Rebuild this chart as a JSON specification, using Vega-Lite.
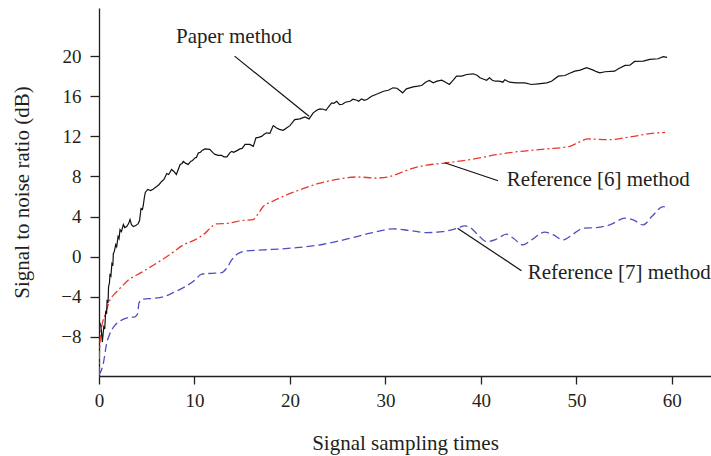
{
  "$schema": "https://vega.github.io/schema/vega-lite/v6.json",
  "width": 612,
  "height": 368,
  "autosize": {"type": "none"},
  "padding": {"left": 99, "top": 8, "right": 0, "bottom": 80},
  "background": "white",
  "config": {
    "view": {"stroke": null},
    "font": "Liberation Serif",
    "axis": {
      "grid": false,
      "domainColor": "#231f20",
      "domainWidth": 1.3,
      "tickColor": "#231f20",
      "tickWidth": 1.3,
      "labelColor": "#231f20",
      "titleColor": "#231f20",
      "labelFont": "Liberation Serif",
      "titleFont": "Liberation Serif",
      "labelFontSize": 19,
      "titleFontSize": 21,
      "titleFontWeight": "normal"
    }
  },
  "datasets": {
    "curves": [
      {"series": "Paper", "x": 0, "y": -6.4}, {"series": "Paper", "x": 0.2, "y": -6.9}, {"series": "Paper", "x": 0.35, "y": -8.5}, {"series": "Paper", "x": 0.5, "y": -7.0}, {"series": "Paper", "x": 0.6, "y": -7.2}, {"series": "Paper", "x": 0.7, "y": -5.5}, {"series": "Paper", "x": 0.8, "y": -5.6}, {"series": "Paper", "x": 0.85, "y": -4.3}, {"series": "Paper", "x": 0.95, "y": -4.6}, {"series": "Paper", "x": 1.0, "y": -3.0}, {"series": "Paper", "x": 1.1, "y": -2.6}, {"series": "Paper", "x": 1.15, "y": -1.7}, {"series": "Paper", "x": 1.25, "y": -1.9}, {"series": "Paper", "x": 1.35, "y": -0.7}, {"series": "Paper", "x": 1.45, "y": -0.9}, {"series": "Paper", "x": 1.5, "y": 0.3}, {"series": "Paper", "x": 1.6, "y": 0.5}, {"series": "Paper", "x": 1.75, "y": 1.2}, {"series": "Paper", "x": 1.85, "y": 1.0}, {"series": "Paper", "x": 2.0, "y": 2.0}, {"series": "Paper", "x": 2.1, "y": 1.8}, {"series": "Paper", "x": 2.2, "y": 2.7}, {"series": "Paper", "x": 2.35, "y": 2.5}, {"series": "Paper", "x": 2.55, "y": 3.2}, {"series": "Paper", "x": 2.7, "y": 2.9}, {"series": "Paper", "x": 2.9, "y": 3.0}, {"series": "Paper", "x": 3.1, "y": 3.3}, {"series": "Paper", "x": 3.25, "y": 3.7}, {"series": "Paper", "x": 3.4, "y": 3.2}, {"series": "Paper", "x": 3.6, "y": 3.0}, {"series": "Paper", "x": 3.85, "y": 3.1}, {"series": "Paper", "x": 4.1, "y": 3.3}, {"series": "Paper", "x": 4.25, "y": 3.6}, {"series": "Paper", "x": 4.4, "y": 4.8}, {"series": "Paper", "x": 4.55, "y": 4.7}, {"series": "Paper", "x": 4.65, "y": 5.2}, {"series": "Paper", "x": 4.75, "y": 5.9}, {"series": "Paper", "x": 4.85, "y": 6.4}, {"series": "Paper", "x": 5.1, "y": 6.7}, {"series": "Paper", "x": 5.4, "y": 6.6}, {"series": "Paper", "x": 5.7, "y": 6.75}, {"series": "Paper", "x": 6.04, "y": 7.0}, {"series": "Paper", "x": 6.3, "y": 7.2}, {"series": "Paper", "x": 6.56, "y": 7.5}, {"series": "Paper", "x": 6.8, "y": 7.7}, {"series": "Paper", "x": 7.1, "y": 8.3}, {"series": "Paper", "x": 7.3, "y": 8.2}, {"series": "Paper", "x": 7.6, "y": 8.7}, {"series": "Paper", "x": 7.85, "y": 8.5}, {"series": "Paper", "x": 8.1, "y": 8.2}, {"series": "Paper", "x": 8.3, "y": 8.7}, {"series": "Paper", "x": 8.5, "y": 9.2}, {"series": "Paper", "x": 8.7, "y": 9.3}, {"series": "Paper", "x": 8.83, "y": 9.5}, {"series": "Paper", "x": 9.1, "y": 9.3}, {"series": "Paper", "x": 9.35, "y": 9.2}, {"series": "Paper", "x": 9.6, "y": 9.5}, {"series": "Paper", "x": 9.8, "y": 9.6}, {"series": "Paper", "x": 10.05, "y": 9.85}, {"series": "Paper", "x": 10.2, "y": 9.9}, {"series": "Paper", "x": 10.4, "y": 10.35}, {"series": "Paper", "x": 10.6, "y": 10.4}, {"series": "Paper", "x": 10.8, "y": 10.6}, {"series": "Paper", "x": 11.1, "y": 10.75}, {"series": "Paper", "x": 11.6, "y": 10.7}, {"series": "Paper", "x": 11.9, "y": 10.4}, {"series": "Paper", "x": 12.15, "y": 10.2}, {"series": "Paper", "x": 12.5, "y": 10.1}, {"series": "Paper", "x": 12.85, "y": 10.1}, {"series": "Paper", "x": 13.1, "y": 9.95}, {"series": "Paper", "x": 13.4, "y": 9.95}, {"series": "Paper", "x": 13.7, "y": 10.35}, {"series": "Paper", "x": 13.9, "y": 10.5}, {"series": "Paper", "x": 14.1, "y": 10.4}, {"series": "Paper", "x": 14.3, "y": 10.5}, {"series": "Paper", "x": 14.5, "y": 10.6}, {"series": "Paper", "x": 14.76, "y": 10.75}, {"series": "Paper", "x": 15.0, "y": 10.8}, {"series": "Paper", "x": 15.3, "y": 11.2}, {"series": "Paper", "x": 15.6, "y": 11.2}, {"series": "Paper", "x": 15.8, "y": 11.2}, {"series": "Paper", "x": 16.16, "y": 11.0}, {"series": "Paper", "x": 16.44, "y": 11.85}, {"series": "Paper", "x": 16.7, "y": 11.9}, {"series": "Paper", "x": 17.03, "y": 12.0}, {"series": "Paper", "x": 17.3, "y": 12.2}, {"series": "Paper", "x": 17.56, "y": 12.35}, {"series": "Paper", "x": 17.9, "y": 12.3}, {"series": "Paper", "x": 18.25, "y": 13.07}, {"series": "Paper", "x": 18.6, "y": 12.84}, {"series": "Paper", "x": 18.9, "y": 12.7}, {"series": "Paper", "x": 19.3, "y": 12.6}, {"series": "Paper", "x": 19.6, "y": 12.8}, {"series": "Paper", "x": 20.0, "y": 13.07}, {"series": "Paper", "x": 20.5, "y": 13.67}, {"series": "Paper", "x": 21.05, "y": 13.74}, {"series": "Paper", "x": 21.57, "y": 13.94}, {"series": "Paper", "x": 22.0, "y": 13.74}, {"series": "Paper", "x": 22.44, "y": 14.34}, {"series": "Paper", "x": 22.8, "y": 14.6}, {"series": "Paper", "x": 23.14, "y": 14.74}, {"series": "Paper", "x": 23.5, "y": 14.7}, {"series": "Paper", "x": 23.77, "y": 14.6}, {"series": "Paper", "x": 24.0, "y": 14.9}, {"series": "Paper", "x": 24.37, "y": 15.34}, {"series": "Paper", "x": 24.6, "y": 15.3}, {"series": "Paper", "x": 24.9, "y": 15.5}, {"series": "Paper", "x": 25.2, "y": 15.17}, {"series": "Paper", "x": 25.5, "y": 15.2}, {"series": "Paper", "x": 25.8, "y": 15.4}, {"series": "Paper", "x": 26.3, "y": 15.5}, {"series": "Paper", "x": 26.6, "y": 15.7}, {"series": "Paper", "x": 27.0, "y": 15.6}, {"series": "Paper", "x": 27.2, "y": 15.5}, {"series": "Paper", "x": 27.5, "y": 15.74}, {"series": "Paper", "x": 27.8, "y": 15.6}, {"series": "Paper", "x": 28.1, "y": 15.7}, {"series": "Paper", "x": 28.55, "y": 16.0}, {"series": "Paper", "x": 29.25, "y": 16.27}, {"series": "Paper", "x": 29.8, "y": 16.5}, {"series": "Paper", "x": 30.3, "y": 16.6}, {"series": "Paper", "x": 30.8, "y": 16.84}, {"series": "Paper", "x": 31.2, "y": 16.8}, {"series": "Paper", "x": 31.6, "y": 16.5}, {"series": "Paper", "x": 31.8, "y": 16.34}, {"series": "Paper", "x": 32.2, "y": 16.74}, {"series": "Paper", "x": 32.9, "y": 16.94}, {"series": "Paper", "x": 33.4, "y": 17.0}, {"series": "Paper", "x": 33.8, "y": 17.07}, {"series": "Paper", "x": 34.2, "y": 17.4}, {"series": "Paper", "x": 34.6, "y": 17.57}, {"series": "Paper", "x": 35.0, "y": 17.34}, {"series": "Paper", "x": 35.4, "y": 17.5}, {"series": "Paper", "x": 35.9, "y": 17.6}, {"series": "Paper", "x": 36.3, "y": 17.4}, {"series": "Paper", "x": 36.7, "y": 17.17}, {"series": "Paper", "x": 37.1, "y": 17.6}, {"series": "Paper", "x": 37.45, "y": 18.0}, {"series": "Paper", "x": 38.0, "y": 18.0}, {"series": "Paper", "x": 38.5, "y": 18.17}, {"series": "Paper", "x": 39.2, "y": 18.24}, {"series": "Paper", "x": 39.6, "y": 18.1}, {"series": "Paper", "x": 39.9, "y": 17.84}, {"series": "Paper", "x": 40.3, "y": 17.7}, {"series": "Paper", "x": 40.6, "y": 17.6}, {"series": "Paper", "x": 40.9, "y": 17.84}, {"series": "Paper", "x": 41.2, "y": 17.6}, {"series": "Paper", "x": 41.5, "y": 17.5}, {"series": "Paper", "x": 41.9, "y": 17.5}, {"series": "Paper", "x": 42.3, "y": 17.4}, {"series": "Paper", "x": 42.5, "y": 17.65}, {"series": "Paper", "x": 43.0, "y": 17.4}, {"series": "Paper", "x": 43.7, "y": 17.34}, {"series": "Paper", "x": 44.6, "y": 17.34}, {"series": "Paper", "x": 45.3, "y": 17.17}, {"series": "Paper", "x": 46.0, "y": 17.24}, {"series": "Paper", "x": 46.9, "y": 17.34}, {"series": "Paper", "x": 47.4, "y": 17.5}, {"series": "Paper", "x": 48.1, "y": 18.0}, {"series": "Paper", "x": 48.8, "y": 18.07}, {"series": "Paper", "x": 49.3, "y": 18.3}, {"series": "Paper", "x": 49.84, "y": 18.5}, {"series": "Paper", "x": 50.4, "y": 18.6}, {"series": "Paper", "x": 51.07, "y": 18.84}, {"series": "Paper", "x": 51.77, "y": 18.6}, {"series": "Paper", "x": 52.1, "y": 18.45}, {"series": "Paper", "x": 52.46, "y": 18.34}, {"series": "Paper", "x": 53.0, "y": 18.44}, {"series": "Paper", "x": 54.0, "y": 18.5}, {"series": "Paper", "x": 54.4, "y": 18.75}, {"series": "Paper", "x": 55.1, "y": 19.07}, {"series": "Paper", "x": 55.6, "y": 19.1}, {"series": "Paper", "x": 56.1, "y": 19.47}, {"series": "Paper", "x": 57.0, "y": 19.5}, {"series": "Paper", "x": 57.7, "y": 19.67}, {"series": "Paper", "x": 58.56, "y": 19.74}, {"series": "Paper", "x": 59.1, "y": 19.94}, {"series": "Paper", "x": 59.5, "y": 19.87},
      {"series": "Ref6", "x": 0, "y": -11.8}, {"series": "Ref6", "x": 0.02, "y": -10.5}, {"series": "Ref6", "x": 0.08, "y": -9.0}, {"series": "Ref6", "x": 0.15, "y": -8.0}, {"series": "Ref6", "x": 0.28, "y": -7.0}, {"series": "Ref6", "x": 0.63, "y": -5.83}, {"series": "Ref6", "x": 1.15, "y": -4.33}, {"series": "Ref6", "x": 1.68, "y": -3.66}, {"series": "Ref6", "x": 2.37, "y": -3.0}, {"series": "Ref6", "x": 3.07, "y": -2.33}, {"series": "Ref6", "x": 3.95, "y": -1.83}, {"series": "Ref6", "x": 5.16, "y": -1.16}, {"series": "Ref6", "x": 6.56, "y": -0.33}, {"series": "Ref6", "x": 7.6, "y": 0.33}, {"series": "Ref6", "x": 8.83, "y": 1.17}, {"series": "Ref6", "x": 10.05, "y": 1.67}, {"series": "Ref6", "x": 11.1, "y": 2.33}, {"series": "Ref6", "x": 11.8, "y": 3.0}, {"series": "Ref6", "x": 12.3, "y": 3.27}, {"series": "Ref6", "x": 13.5, "y": 3.33}, {"series": "Ref6", "x": 14.94, "y": 3.6}, {"series": "Ref6", "x": 16.16, "y": 3.7}, {"series": "Ref6", "x": 16.6, "y": 4.2}, {"series": "Ref6", "x": 17.2, "y": 5.0}, {"series": "Ref6", "x": 18.25, "y": 5.55}, {"series": "Ref6", "x": 20.7, "y": 6.55}, {"series": "Ref6", "x": 23.0, "y": 7.3}, {"series": "Ref6", "x": 24.9, "y": 7.7}, {"series": "Ref6", "x": 27.0, "y": 7.95}, {"series": "Ref6", "x": 29.1, "y": 7.84}, {"series": "Ref6", "x": 30.5, "y": 8.0}, {"series": "Ref6", "x": 31.9, "y": 8.5}, {"series": "Ref6", "x": 33.6, "y": 9.0}, {"series": "Ref6", "x": 36.2, "y": 9.34}, {"series": "Ref6", "x": 38.85, "y": 9.67}, {"series": "Ref6", "x": 41.6, "y": 10.17}, {"series": "Ref6", "x": 44.1, "y": 10.5}, {"series": "Ref6", "x": 46.9, "y": 10.74}, {"series": "Ref6", "x": 49.3, "y": 11.0}, {"series": "Ref6", "x": 50.2, "y": 11.4}, {"series": "Ref6", "x": 51.24, "y": 11.74}, {"series": "Ref6", "x": 53.5, "y": 11.67}, {"series": "Ref6", "x": 55.6, "y": 11.94}, {"series": "Ref6", "x": 57.7, "y": 12.27}, {"series": "Ref6", "x": 59.3, "y": 12.4},
      {"series": "Ref7", "x": 0, "y": -11.8}, {"series": "Ref7", "x": 0.45, "y": -10.66}, {"series": "Ref7", "x": 0.8, "y": -8.66}, {"series": "Ref7", "x": 1.15, "y": -7.66}, {"series": "Ref7", "x": 1.68, "y": -6.83}, {"series": "Ref7", "x": 2.37, "y": -6.33}, {"series": "Ref7", "x": 3.07, "y": -6.07}, {"series": "Ref7", "x": 3.77, "y": -6.0}, {"series": "Ref7", "x": 4.05, "y": -5.66}, {"series": "Ref7", "x": 4.19, "y": -4.6}, {"series": "Ref7", "x": 4.64, "y": -4.23}, {"series": "Ref7", "x": 5.7, "y": -4.16}, {"series": "Ref7", "x": 6.73, "y": -4.0}, {"series": "Ref7", "x": 7.96, "y": -3.5}, {"series": "Ref7", "x": 9.0, "y": -3.0}, {"series": "Ref7", "x": 10.05, "y": -2.33}, {"series": "Ref7", "x": 10.75, "y": -1.73}, {"series": "Ref7", "x": 11.8, "y": -1.66}, {"series": "Ref7", "x": 12.85, "y": -1.6}, {"series": "Ref7", "x": 13.36, "y": -1.16}, {"series": "Ref7", "x": 13.9, "y": -0.33}, {"series": "Ref7", "x": 14.6, "y": 0.33}, {"series": "Ref7", "x": 15.46, "y": 0.57}, {"series": "Ref7", "x": 17.2, "y": 0.67}, {"series": "Ref7", "x": 20.7, "y": 0.9}, {"series": "Ref7", "x": 23.5, "y": 1.24}, {"series": "Ref7", "x": 25.9, "y": 1.74}, {"series": "Ref7", "x": 28.4, "y": 2.34}, {"series": "Ref7", "x": 30.8, "y": 2.77}, {"series": "Ref7", "x": 32.6, "y": 2.6}, {"series": "Ref7", "x": 34.3, "y": 2.4}, {"series": "Ref7", "x": 36.05, "y": 2.5}, {"series": "Ref7", "x": 37.55, "y": 2.84}, {"series": "Ref7", "x": 38.3, "y": 3.07}, {"series": "Ref7", "x": 38.85, "y": 2.94}, {"series": "Ref7", "x": 39.7, "y": 2.17}, {"series": "Ref7", "x": 40.6, "y": 1.5}, {"series": "Ref7", "x": 41.6, "y": 1.74}, {"series": "Ref7", "x": 42.7, "y": 2.24}, {"series": "Ref7", "x": 43.4, "y": 1.84}, {"series": "Ref7", "x": 44.4, "y": 1.17}, {"series": "Ref7", "x": 45.3, "y": 1.67}, {"series": "Ref7", "x": 46.7, "y": 2.44}, {"series": "Ref7", "x": 47.6, "y": 2.17}, {"series": "Ref7", "x": 48.6, "y": 1.67}, {"series": "Ref7", "x": 49.7, "y": 2.27}, {"series": "Ref7", "x": 50.7, "y": 2.84}, {"series": "Ref7", "x": 52.1, "y": 2.9}, {"series": "Ref7", "x": 53.5, "y": 3.17}, {"series": "Ref7", "x": 55.1, "y": 3.84}, {"series": "Ref7", "x": 55.95, "y": 3.67}, {"series": "Ref7", "x": 57.0, "y": 3.17}, {"series": "Ref7", "x": 57.9, "y": 4.0}, {"series": "Ref7", "x": 59.1, "y": 5.0}, {"series": "Ref7", "x": 59.6, "y": 4.67}
    ],
    "leaders": [
      {"x": 14.2, "y": 20.0, "x2": 22.0, "y2": 14.0},
      {"x": 36.2, "y": 9.37, "x2": 41.8, "y2": 7.57},
      {"x": 37.55, "y": 2.84, "x2": 44.25, "y2": -1.4}
    ],
    "labels": [
      {"x": 8.06, "y": 21.87, "text": "Paper method"},
      {"x": 42.7, "y": 7.67, "text": "Reference [6] method"},
      {"x": 44.9, "y": -1.66, "text": "Reference [7] method"}
    ]
  },
  "encoding": {
    "x": {
      "field": "x", "type": "quantitative",
      "scale": {"domain": [0, 64.1], "nice": false, "zero": false},
      "axis": {
        "title": "Signal sampling times",
        "values": [0, 10, 20, 30, 40, 50, 60],
        "tickSize": 8,
        "labelPadding": 7,
        "titleY": 67,
        "titleBaseline": "middle",
        "labelFlush": false
      }
    },
    "y": {
      "field": "y", "type": "quantitative",
      "scale": {"domain": [-11.9, 24.8], "nice": false, "zero": false},
      "axis": {
        "title": "Signal to noise ratio (dB)",
        "values": [-8, -4, 0, 4, 8, 12, 16, 20],
        "tickSize": 9,
        "labelPadding": 9,
        "titleX": -77,
        "titleY": 184,
        "titleBaseline": "middle",
        "titleAlign": "center",
        "titleAngle": -90,
        "labelFlush": false
      }
    }
  },
  "layer": [
    {
      "data": {"name": "curves"},
      "transform": [{"filter": {"field": "series", "equal": "Ref7"}}],
      "mark": {"type": "line", "color": "#4f4fbf", "strokeWidth": 1.3, "strokeDash": [8, 4], "interpolate": "monotone", "clip": true}
    },
    {
      "data": {"name": "curves"},
      "transform": [{"filter": {"field": "series", "equal": "Ref6"}}],
      "mark": {"type": "line", "color": "#e8382c", "strokeWidth": 1.3, "strokeDash": [8, 3, 2, 3], "interpolate": "monotone", "clip": true}
    },
    {
      "data": {"name": "curves"},
      "transform": [{"filter": {"field": "series", "equal": "Paper"}}],
      "mark": {"type": "line", "color": "#111111", "strokeWidth": 1.2, "clip": true}
    },
    {
      "data": {"name": "leaders"},
      "mark": {"type": "rule", "color": "#111111", "strokeWidth": 1.2},
      "encoding": {
        "x2": {"field": "x2"},
        "y2": {"field": "y2"}
      }
    },
    {
      "data": {"name": "labels"},
      "mark": {"type": "text", "align": "left", "baseline": "middle", "font": "Liberation Serif", "fontSize": 21, "color": "#231f20"},
      "encoding": {
        "text": {"field": "text"}
      }
    }
  ]
}
